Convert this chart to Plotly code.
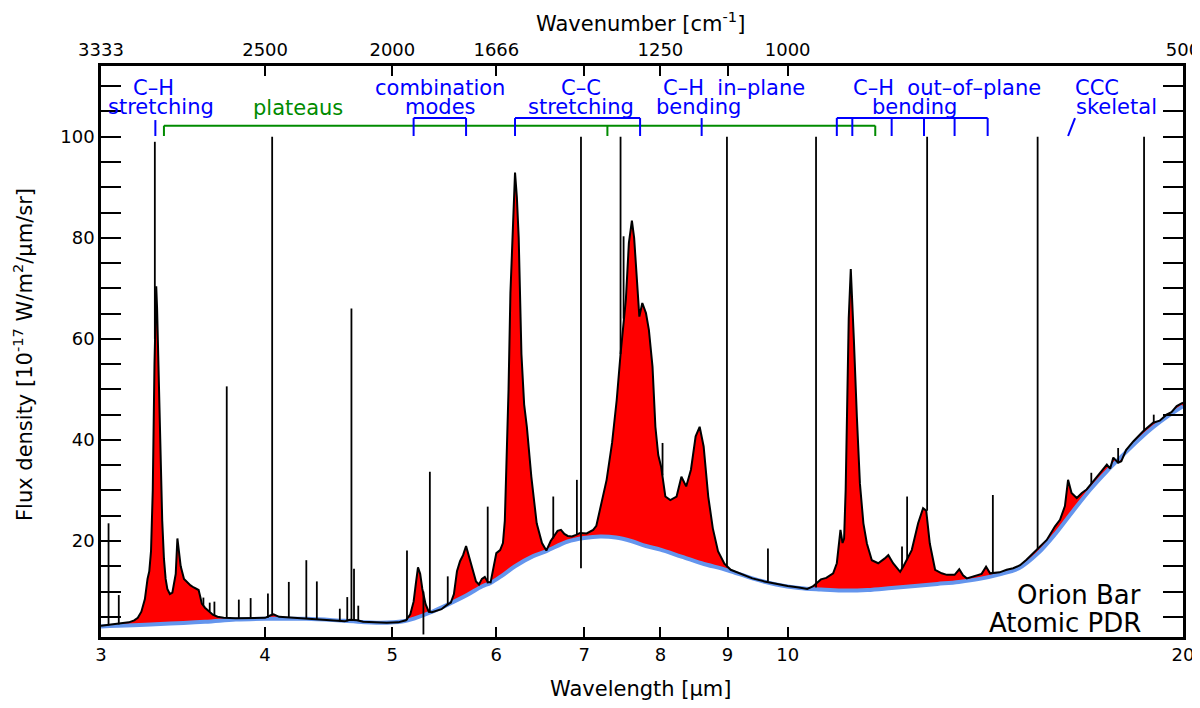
import numpy as np
import plotly.graph_objects as go

# Espectro Orion Bar (PDR atomica), valores leidos del grafico
# longitud de onda en micras, flujo en 1e-17 W/m2/um/sr
spec_wl = [3.00, 3.05, 3.10, 3.15, 3.18, 3.20, 3.22, 3.24, 3.255, 3.265, 3.275, 3.285, 3.295, 3.30, 3.305,
           3.31, 3.32, 3.33, 3.34, 3.35, 3.36, 3.37, 3.385, 3.40, 3.41, 3.42, 3.43, 3.44, 3.45, 3.47,
           3.49, 3.51, 3.53, 3.55, 3.56, 3.57, 3.58, 3.60, 3.62, 3.65, 3.68, 3.72, 3.80, 3.90, 4.00,
           4.04, 4.06, 4.10, 4.20, 4.30, 4.40, 4.50, 4.60, 4.64, 4.70, 4.75, 4.85, 4.95, 5.05, 5.12,
           5.16, 5.19, 5.21, 5.23, 5.25, 5.27, 5.30, 5.33, 5.36, 5.40, 5.45, 5.50, 5.54, 5.57, 5.60,
           5.63, 5.66, 5.69, 5.72, 5.75, 5.79, 5.82, 5.85, 5.88, 5.91, 5.94, 5.97, 6.00, 6.04, 6.07,
           6.09, 6.11, 6.13, 6.15, 6.18, 6.20, 6.22, 6.24, 6.27, 6.30, 6.33, 6.38, 6.44, 6.50, 6.55,
           6.60, 6.64, 6.68, 6.72, 6.76, 6.80, 6.85, 6.90, 6.95, 7.03, 7.11, 7.15, 7.21, 7.28, 7.35,
           7.41, 7.46, 7.50, 7.53, 7.57, 7.61, 7.64, 7.68, 7.71, 7.75, 7.80, 7.84, 7.89, 7.93, 7.97,
           8.01, 8.07, 8.14, 8.23, 8.30, 8.37, 8.44, 8.51, 8.57, 8.63, 8.70, 8.77, 8.85, 8.95, 9.05,
           9.20, 9.40, 9.60, 9.80, 10.00, 10.20, 10.35, 10.45, 10.60, 10.70, 10.83, 10.90, 10.93, 10.97, 11.01,
           11.04, 11.07, 11.10, 11.13, 11.17, 11.20, 11.23, 11.29, 11.35, 11.42, 11.49, 11.59, 11.72, 11.85, 11.93,
           12.03, 12.18, 12.25, 12.33, 12.43, 12.57, 12.68, 12.75, 12.83, 12.95, 13.10, 13.22, 13.40, 13.51, 13.60,
           13.69, 13.93, 14.05, 14.16, 14.26, 14.50, 14.68, 14.85, 15.03, 15.20, 15.49, 15.75, 15.98, 16.12, 16.26,
           16.35, 16.45, 16.60, 16.75, 16.89, 17.05, 17.29, 17.50, 17.60, 17.70, 17.85, 17.95, 18.10, 18.33, 18.65,
           18.98, 19.20, 19.43, 19.60, 19.78, 20.00]
spec_flux = [3.2, 3.4, 3.6, 3.9, 4.3, 4.8, 6.0, 8.5, 12.5, 14.0, 18.0, 30.0, 55.0, 66.0, 70.4,
             66.0, 52.0, 36.0, 24.0, 16.5, 12.5, 10.5, 9.5, 9.8, 11.5, 13.5, 20.5, 17.5, 15.0, 12.5,
             11.8, 11.2, 10.8, 10.5, 10.3, 9.0, 7.6, 6.8, 6.2, 5.4, 5.0, 4.8, 4.7, 4.7, 4.8,
             5.3, 5.5, 5.0, 4.8, 4.7, 4.5, 4.2, 4.1, 4.4, 4.3, 4.0, 3.9, 3.8, 3.9, 4.3,
             5.5, 8.0, 11.5, 14.8, 13.5, 10.5, 7.5, 6.0, 5.9, 6.1, 6.5, 7.3, 7.8, 9.5, 14.0,
             16.0, 17.2, 19.0, 17.0, 15.0, 12.0, 11.4, 12.5, 12.9, 11.9, 11.8, 15.0, 17.6, 18.2, 19.6,
             24.0, 36.0, 50.0, 69.0, 86.0, 92.9, 88.0, 80.0, 57.0, 47.0, 42.6, 32.7, 23.5, 19.6, 18.1,
             20.0, 21.0, 22.0, 22.2, 21.4, 21.0, 20.9, 21.2, 21.6, 21.5, 22.2, 23.0, 27.5, 32.1, 39.4,
             47.9, 57.0, 64.0, 67.8, 79.0, 83.4, 80.0, 70.0, 64.4, 67.1, 65.1, 61.8, 54.5, 42.6, 37.0,
             34.7, 28.8, 28.1, 28.8, 32.7, 30.8, 34.1, 40.7, 42.6, 38.7, 28.8, 22.5, 18.0, 15.5, 14.3,
             13.6, 12.6, 12.0, 11.5, 11.1, 10.8, 10.5, 11.0, 12.4, 12.7, 13.6, 15.6, 18.2, 22.2, 19.6,
             20.5, 30.0, 48.0, 64.0, 73.8, 68.0, 60.0, 44.6, 31.4, 23.5, 19.5, 16.2, 15.6, 16.5, 17.2,
             15.6, 13.9, 15.0, 16.5, 18.2, 23.5, 26.5, 26.0, 19.5, 14.3, 13.6, 13.3, 13.3, 14.4, 13.2,
             12.6, 13.3, 13.5, 14.9, 13.6, 13.8, 14.3, 14.6, 15.2, 16.3, 18.3, 20.2, 22.9, 24.2, 26.9,
             32.1, 29.5, 28.5, 29.5, 30.2, 31.5, 33.5, 35.1, 34.3, 36.5, 35.5, 35.8, 38.0, 39.7, 41.7,
             43.4, 43.8, 45.0, 45.5, 46.7, 47.4]

# continuo (linea azul)
cont_wl = [3.0, 3.3, 3.6, 3.8, 4.0, 4.3, 4.6, 4.9, 5.1, 5.2, 5.35, 5.5, 5.7, 5.85, 5.94,
           6.05, 6.2, 6.4, 6.55, 6.8, 7.0, 7.2, 7.4, 7.6, 7.8, 8.0, 8.3, 8.6, 9.0, 9.4,
           9.8, 10.2, 10.6, 11.0, 11.5, 12.0, 12.5, 13.0, 13.5, 14.0, 14.5, 15.0, 15.5, 16.0, 16.5,
           17.0, 17.5, 18.0, 18.5, 19.0, 19.5, 20.0]
cont_flux = [3.1, 3.5, 4.0, 4.45, 4.6, 4.6, 4.2, 3.8, 4.1, 4.7, 5.9, 7.3, 9.3, 11.0, 11.7,
             13.0, 15.0, 17.0, 18.0, 19.9, 20.6, 20.9, 20.7, 20.0, 19.0, 18.3, 16.9, 15.6, 14.2, 12.6,
             11.4, 10.7, 10.4, 10.2, 10.3, 10.7, 11.1, 11.5, 11.9, 12.5, 13.4, 14.6, 17.5, 21.5, 26.0,
             30.2, 33.8, 37.0, 40.0, 42.6, 44.8, 46.7]

# lineas atomicas estrechas: posicion, base, pico
line_wl = [3.04, 3.095, 3.297, 3.59, 3.63, 3.66, 3.74, 3.82, 3.90, 4.02, 4.05, 4.17, 4.30, 4.38, 4.56,
           4.62, 4.654, 4.675, 4.71, 5.13, 5.28, 5.34, 5.51, 5.91, 6.63, 6.91, 6.96, 7.46, 7.50, 8.03,
           8.99, 9.66, 10.51, 12.22, 12.33, 12.77, 14.33, 15.50, 17.03, 17.85, 18.68, 19.00]
line_low = [3.3, 3.5, 60.0, 7.2, 6.0, 5.2, 4.75, 4.7, 4.7, 4.8, 5.4, 4.8, 4.7, 4.5, 4.1,
            4.1, 4.3, 4.3, 4.2, 4.3, 1.5, 6.0, 7.3, 11.6, 20.5, 21.2, 14.6, 57.0, 64.0, 33.0,
            14.8, 12.0, 10.8, 14.5, 16.2, 26.0, 13.6, 18.3, 31.3, 35.5, 41.7, 43.4]
line_high = [23.5, 9.3, 99.0, 8.8, 7.8, 8.0, 50.6, 8.4, 8.7, 9.6, 100, 11.9, 16.2, 12.0, 6.6,
             8.9, 66.0, 14.5, 7.2, 18.1, 10.0, 33.7, 13.0, 26.8, 28.8, 32.1, 100, 100, 80.3, 39.4,
             100, 18.5, 100, 18.9, 28.8, 100, 29.1, 100, 33.5, 38.4, 100, 45.0]

# ejes
bottom_ticks = [3, 4, 5, 6, 7, 8, 9, 10, 20]
bottom_labels = ["3", "4", "5", "6", "7", "8", "9", "10", "20"]
top_labels = ["3333", "2500", "2000", "1666", "", "1250", "", "1000", "500"]

# corchetes de identificacion de bandas
ch_stretch_tick = [3.3]
plateau_ticks = [3.35, 7.29, 11.66]
comb_modes = [5.19, 5.69]
cc_stretch = [6.2, 7.72]
ch_inplane_tick = [8.6]
ch_oop = [10.9, 11.2, 12.0, 12.7, 13.4, 14.2]
ccc_skel = [16.35, 16.55]

label_text = ["C–H", "stretching", "plateaus", "combination", "modes", "C–C", "stretching",
              "C–H  in–plane", "bending", "C–H  out–of–plane", "bending", "CCC", "skeletal"]
label_wl = [3.29, 3.33, 4.24, 5.44, 5.44, 6.96, 6.96, 9.10, 8.56, 13.22, 12.49, 17.2, 17.81]
label_y = [109.6, 105.9, 105.7, 109.6, 105.9, 109.6, 105.9, 109.6, 105.9, 109.6, 105.9, 109.6, 105.9]

BLUE = "#0000FF"
GREEN = "#008B00"
FONT = "DejaVu Sans"
br_bot, br_top, tick_top, plat_y = 100.15, 103.7, 103.3, 102.2


def bracket(ticks, top, bot):
    xs, ys = [], []
    if len(ticks) > 1:
        xs += [ticks[0], ticks[-1], None]
        ys += [top, top, None]
    for t in ticks:
        xs += [t, t, None]
        ys += [bot, top, None]
    return xs, ys


fig = go.Figure()
# base del relleno (continuo) y relleno rojo hasta el espectro
fig.add_trace(go.Scatter(x=cont_wl, y=cont_flux, mode="lines", line=dict(width=0), hoverinfo="skip"))
fig.add_trace(go.Scatter(x=spec_wl, y=spec_flux, mode="lines", line=dict(width=0),
                         fill="tonexty", fillcolor="#FF0000", hoverinfo="skip"))
fig.add_trace(go.Scatter(x=cont_wl, y=cont_flux, mode="lines", line=dict(color="#6495ED", width=4, shape="spline")))
fig.add_trace(go.Scatter(x=spec_wl, y=spec_flux, mode="lines", line=dict(color="black", width=2)))

lx, ly = [], []
for w, lo, hi in zip(line_wl, line_low, line_high):
    lx += [w, w, None]
    ly += [lo, hi, None]
fig.add_trace(go.Scatter(x=lx, y=ly, mode="lines", line=dict(color="black", width=1.8)))

# corchetes
gx, gy = bracket(plateau_ticks, plat_y, br_bot)
fig.add_trace(go.Scatter(x=gx, y=gy, mode="lines", line=dict(color=GREEN, width=2)))
for tk in [comb_modes, cc_stretch, ch_oop]:
    bx, by = bracket(tk, br_top, br_bot)
    fig.add_trace(go.Scatter(x=bx, y=by, mode="lines", line=dict(color=BLUE, width=2)))
for tk, tp in [(ch_stretch_tick, tick_top), (ch_inplane_tick, br_top)]:
    bx, by = bracket(tk, tp, br_bot)
    fig.add_trace(go.Scatter(x=bx, y=by, mode="lines", line=dict(color=BLUE, width=2)))
fig.add_trace(go.Scatter(x=ccc_skel, y=[br_bot, br_top], mode="lines", line=dict(color=BLUE, width=2)))

# eje superior (numero de onda)
fig.add_trace(go.Scatter(x=[3, 20], y=[None, None], xaxis="x2", mode="lines", hoverinfo="skip"))

for t, w, yy in zip(label_text, label_wl, label_y):
    col = GREEN if t == "plateaus" else BLUE
    fig.add_annotation(x=np.log10(w), y=yy, text=t, showarrow=False, xanchor="center", yanchor="middle",
                       font=dict(family=FONT, size=21, color=col))

fig.add_annotation(x=np.log10(18.65), y=9.3, text="Orion Bar", showarrow=False, xanchor="right",
                   yanchor="middle", font=dict(family=FONT, size=26, color="black"))
fig.add_annotation(x=np.log10(18.65), y=3.8, text="Atomic PDR", showarrow=False, xanchor="right",
                   yanchor="middle", font=dict(family=FONT, size=26, color="black"))

# titulos de ejes
fig.add_annotation(xref="paper", yref="paper", x=0.499, y=-0.091, text="Wavelength [μm]", showarrow=False,
                   xanchor="center", yanchor="middle", font=dict(family=FONT, size=21, color="black"))
fig.add_annotation(xref="paper", yref="paper", x=0.499, y=1.077, text="Wavenumber [cm<sup>-1</sup>]",
                   xanchor="center", yanchor="middle", showarrow=False,
                   font=dict(family=FONT, size=21, color="black"))
fig.add_annotation(xref="paper", yref="paper", x=-0.072, y=0.494, textangle=-90,
                   xanchor="center", yanchor="middle",
                   text="Flux density [10<sup>-17</sup> W/m<sup>2</sup>/μm/sr]", showarrow=False,
                   font=dict(family=FONT, size=21, color="black"))

axis_common = dict(type="log", range=[np.log10(3), np.log10(20)], tickmode="array", tickvals=bottom_ticks,
                   ticks="inside", ticklen=10, tickwidth=2, tickcolor="black", showline=True, linewidth=2.5,
                   linecolor="black", showgrid=False, zeroline=False, automargin=False,
                   ticklabeloverflow="allow", tickfont=dict(family=FONT, size=18, color="black"))
# el body de la pagina tiene 8px de margen: figura algo menor para que no haya scroll
fig.update_layout(
    width=1192, height=692,
    margin=dict(l=93, r=17, t=58, b=63, autoexpand=False),
    paper_bgcolor="white", plot_bgcolor="white",
    showlegend=False,
    xaxis=dict(ticktext=bottom_labels, **axis_common),
    xaxis2=dict(ticktext=top_labels, overlaying="x", side="top", **axis_common),
    yaxis=dict(range=[1, 114], tickmode="array", tickvals=[20, 40, 60, 80, 100], ticks="inside", ticklen=20,
               tickwidth=2, tickcolor="black", showline=True, linewidth=2.5, linecolor="black", mirror="allticks",
               showgrid=False, zeroline=False, automargin=False, tickfont=dict(family=FONT, size=18, color="black"),
               minor=dict(tick0=0, dtick=5, ticks="inside", ticklen=10, tickwidth=2, tickcolor="black")),
)

fig.write_html("out.html")
